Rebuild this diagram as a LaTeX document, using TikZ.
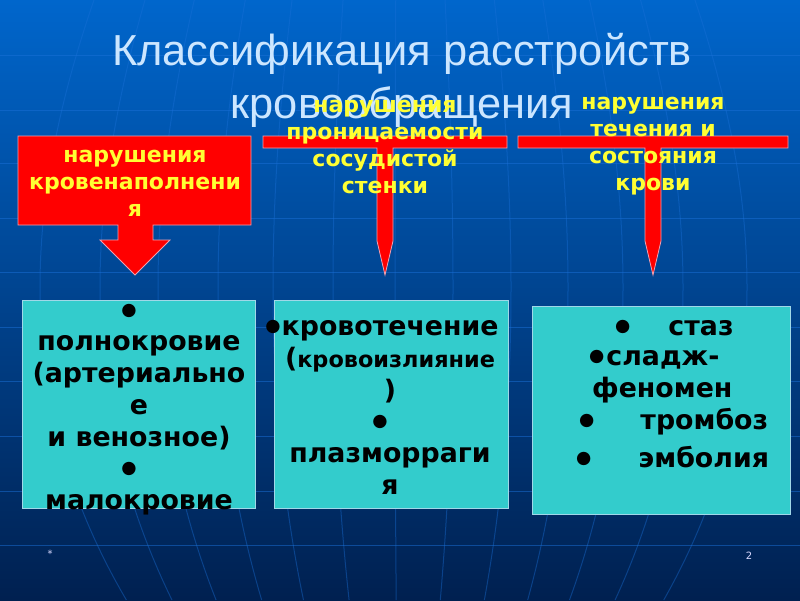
\documentclass[tikz,border=0pt]{standalone}
\usepackage{fontspec}
\setmainfont{DejaVu Sans}
\newfontfamily\titlefont{Liberation Sans}
\definecolor{bgtop}{HTML}{0066CC}
\definecolor{bgmid}{HTML}{004C9C}
\definecolor{bgbot}{HTML}{002050}
\definecolor{gridblue}{HTML}{1A70D8}
\definecolor{boxteal}{HTML}{33CCCC}
\definecolor{boxedge}{HTML}{A0D8E8}
\definecolor{arrowedge}{HTML}{F0A0B0}
\definecolor{titleblue}{HTML}{CCE6FF}
\definecolor{labelyellow}{HTML}{FFFF33}
\newcommand{\bigdot}{\raisebox{4pt}{\fontsize{17.5}{17.5}\selectfont ●}}
\tikzset{
  gridline/.style={gridblue,line width=1pt,opacity=0.5},
  redshape/.style={fill=red,draw=arrowedge,line width=0.8pt},
  tealbox/.style={fill=boxteal,draw=boxedge,line width=1pt},
  redlabel/.style={font=\bfseries\fontsize{22}{27}\selectfont,text=labelyellow,align=center},
  itemlabel/.style={font=\bfseries\fontsize{26.8}{31.7}\selectfont,text=black,align=center},
  itemline/.style={font=\bfseries\fontsize{26.8}{31.7}\selectfont,text=black,anchor=west,inner sep=0pt}
}
\begin{document}
\begin{tikzpicture}[x=1pt,y=-1pt]
  % Background
  \shade[top color=bgtop,middle color=bgmid,bottom color=bgbot] (0,0) rectangle (800,600);
  \useasboundingbox (0,0) rectangle (800,600);
  % Globe lines
  \foreach \yy in {55,110,163,218,272,327,381,436,491,545}
    \draw[gridline] (0,\yy) -- (800,\yy);
  \foreach \xm in {40,100,158,218,273,333,395,453,511,568,623,683,747}
    \draw[gridline,opacity=0.4] ({400+(\xm-400)*0.85},0) .. controls ({400+(\xm-400)*1.042},200)
      and ({400+(\xm-400)*1.087},400) .. ({400+(\xm-400)*0.76},600);
  % Title
  \node[font=\titlefont\fontsize{43.4}{53}\selectfont,text=titleblue,align=center] (title) at (402,80)
    {Классификация расстройств\\кровообращения};
  % Left arrow box
  \draw[redshape] (18,136) -- (251,136) -- (251,225) -- (153,225) -- (153,240) -- (170,240)
    -- (135,275) -- (100,240) -- (118,240) -- (118,225) -- (18,225) -- cycle;
  % T arrows
  \draw[redshape] (263,136) -- (507,136) -- (507,148) -- (393,148) -- (393,241) -- (385,275)
    -- (377,241) -- (377,148) -- (263,148) -- cycle;
  \draw[redshape] (518,136) -- (788,136) -- (788,148) -- (661,148) -- (661,241) -- (653,275)
    -- (645,241) -- (645,148) -- (518,148) -- cycle;
  % Arrow labels
  \node[redlabel] (fill) at (135,183.5) {нарушения\\кровенаполнени\\я};
  \node[redlabel] (wall) at (385,146.5) {нарушения\\проницаемости\\сосудистой\\стенки};
  \node[redlabel] (flow) at (653,146.5) {нарушения\\течения и\\состояния\\крови};
  % Boxes
  \node[tealbox,minimum width=233pt,minimum height=208pt,anchor=north west] (boxa) at (22,300) {};
  \node[tealbox,minimum width=234pt,minimum height=208pt,anchor=north west] (boxb) at (274,300) {};
  \node[tealbox,minimum width=258pt,minimum height=208pt,anchor=north west] (boxc) at (532,306) {};
  % Box texts
  \node[itemlabel] (texta) at (139,409.5) {\mbox{\bigdot\hspace{20pt}}\\полнокровие\\(артериально\\е\\и венозное)\\\mbox{\bigdot\hspace{20pt}}\\малокровие};
  \node[itemlabel] (textb) at (390,407.5) {\mbox{\bigdot\hspace{1pt}кровотечение\hspace{16pt}}\\({\fontsize{22.4}{31.7}\selectfont кровоизлияние}\\)\\\mbox{\bigdot\hspace{20pt}}\\плазморраги\\я};
  \node[itemline] (stasis) at (615,328) {\bigdot\hspace{38pt}стаз};
  \node[itemline] (sludge) at (589,360) {\bigdot\hspace{2pt}сладж-};
  \node[itemline] (phenom) at (592,390) {феномен};
  \node[itemline] (throm) at (579,422) {\bigdot\hspace{46pt}тромбоз};
  \node[itemline] (embol) at (576,457) {\bigdot\hspace{47pt}эмболия};
  % Footer
  \node[font=\fontsize{10}{12}\selectfont,text=white!85!blue] (star) at (50,554) {*};
  \node[font=\fontsize{10}{12}\selectfont,text=white!85!blue] (page) at (749,556) {2};
\end{tikzpicture}
\end{document}
